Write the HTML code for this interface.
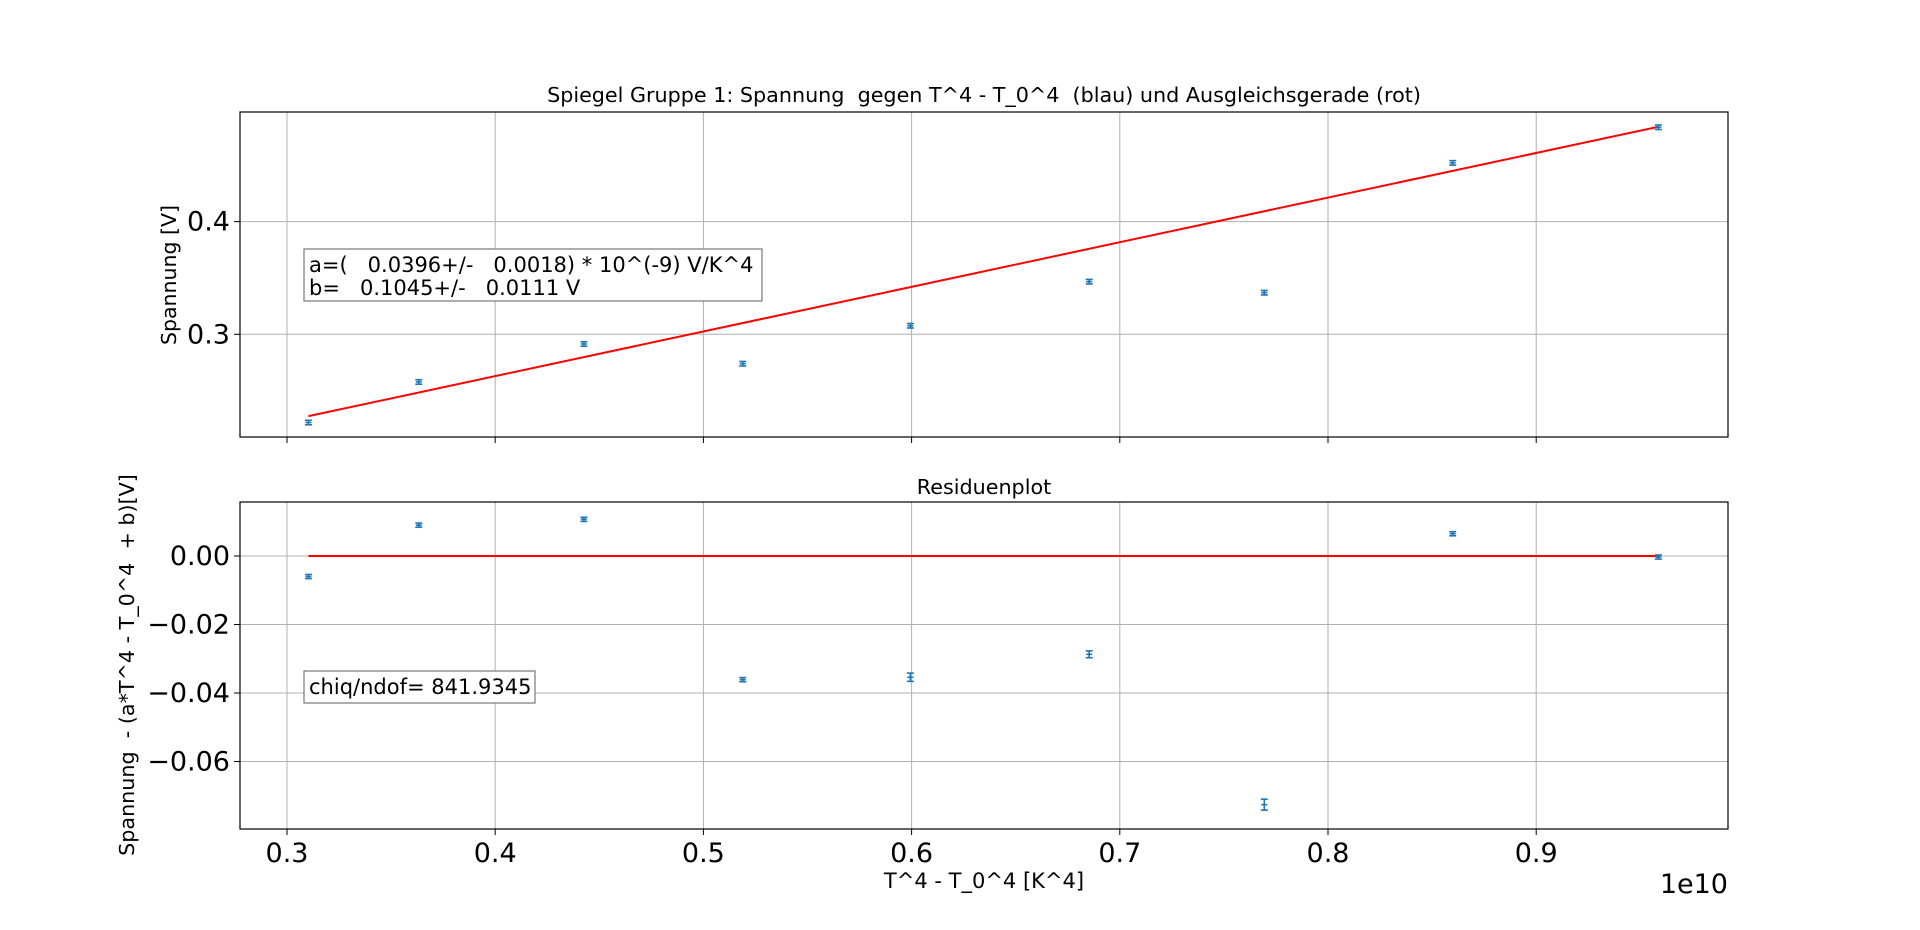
<!DOCTYPE html>
<html><head><meta charset="utf-8"><style>
html,body{margin:0;padding:0;background:#fff;}
svg{display:block;font-family:"DejaVu Sans","Liberation Sans",sans-serif;}
</style></head><body>
<svg id="chart" width="1920" height="930" viewBox="0 0 1920 930" xmlns="http://www.w3.org/2000/svg">
<rect width="1920" height="930" fill="#fff"/>
<g id="topPanel"></g>
<g id="botPanel"></g>
<text x="984" y="102" font-size="20.7" text-anchor="middle" xml:space="preserve">Spiegel Gruppe 1: Spannung  gegen T^4 - T_0^4  (blau) und Ausgleichsgerade (rot)</text>
<text x="984" y="494" font-size="20.7" text-anchor="middle">Residuenplot</text>
<text transform="translate(176,275) rotate(-90)" font-size="20.5" text-anchor="middle">Spannung [V]</text>
<text transform="translate(134,665) rotate(-90)" font-size="20.7" text-anchor="middle" xml:space="preserve">Spannung  - (a*T^4 - T_0^4  + b)[V]</text>
<text x="984" y="888" font-size="21" text-anchor="middle">T^4 - T_0^4 [K^4]</text>
<text x="1728" y="893" font-size="27" text-anchor="end">1e10</text>
<g id="fitbox">
<rect x="304" y="249" width="458" height="52" fill="#fff" stroke="#777" stroke-width="1.2"/>
<text x="309" y="272" font-size="21" xml:space="preserve">a=(   0.0396+/-   0.0018) * 10^(-9) V/K^4</text>
<text x="309" y="295" font-size="21" xml:space="preserve">b=   0.1045+/-   0.0111 V</text>
</g>
<g id="chibox">
<rect x="304" y="671" width="231" height="32" fill="#fff" stroke="#777" stroke-width="1.2"/>
<text x="309" y="694" font-size="21">chiq/ndof= 841.9345</text>
</g>
</svg>
<script>
const xVals=[0.3103,0.3633,0.4426,0.5189,0.5994,0.6853,0.7694,0.8599,0.9587];
const yVals=[0.2217,0.2577,0.2914,0.2739,0.3076,0.3467,0.3369,0.4521,0.4837];
const yErr=[0.002,0.002,0.002,0.002,0.002,0.002,0.002,0.002,0.002];
const resVals=[-0.0060,0.0090,0.0107,-0.0361,-0.0354,-0.0287,-0.0726,0.0065,-0.0003];
const resErr=[0.0006,0.0006,0.0006,0.0006,0.0012,0.0010,0.0016,0.0006,0.0006];
const slope=0.396, intercept=0.1045;
const xTicks=[0.3,0.4,0.5,0.6,0.7,0.8,0.9];
const xTickLabels=["0.3","0.4","0.5","0.6","0.7","0.8","0.9"];
const yTicksTop=[0.3,0.4];
const yTickLabelsTop=["0.3","0.4"];
const yTicksBot=[0.00,-0.02,-0.04,-0.06];
const yTickLabelsBot=["0.00","\u22120.02","\u22120.04","\u22120.06"];

const NS="http://www.w3.org/2000/svg";
const L=240,R=1728;
const xS=v=>287+(v-0.3)*2082;
const yTopS=v=>221.6-(v-0.4)*1127;
const yBotS=v=>556-v*3425;
function el(p,t,a){const e=document.createElementNS(NS,t);for(const k in a)e.setAttribute(k,a[k]);p.appendChild(e);return e;}

function panel(g,T,B,yS,yT,yL,withXLabels){
  xTicks.forEach((t,i)=>{
    const x=xS(t);
    const gl=el(g,'line',{x1:x,x2:x,y1:T,y2:B,stroke:'#b0b0b0','stroke-width':1});
    
    
    el(g,'line',{x1:x,x2:x,y1:B,y2:B+6,stroke:'#000','stroke-width':1});
    if(withXLabels){
      const tx=el(g,'text',{x:x,y:B+33,'font-size':27,'text-anchor':'middle'});
      tx.textContent=xTickLabels[i];
      
      
    }
  });
  yT.forEach((t,i)=>{
    const y=yS(t);
    const gl=el(g,'line',{x1:L,x2:R,y1:y,y2:y,stroke:'#b0b0b0','stroke-width':1});
    
    
    el(g,'line',{x1:L-6,x2:L,y1:y,y2:y,stroke:'#000','stroke-width':1});
    const tx=el(g,'text',{x:L-10,y:y+9,'font-size':27,'text-anchor':'end'});
    tx.textContent=yL[i];
    
    
  });
}
function points(g,ys,errs,yS){
  xVals.forEach((xv,i)=>{
    const x=xS(xv),y=yS(ys[i]),y1=yS(ys[i]+errs[i]),y2=yS(ys[i]-errs[i]);
    const p=el(g,'g',{stroke:'#1f77b4','stroke-width':1.6});
    
    
    el(p,'line',{x1:x,x2:x,y1:y1,y2:y2});
    el(p,'line',{x1:x-3.5,x2:x+3.5,y1:y1,y2:y1});
    el(p,'line',{x1:x-3.5,x2:x+3.5,y1:y2,y2:y2});
    el(p,'line',{x1:x-3,x2:x+3,y1:y,y2:y});
  });
}
const gTop=document.getElementById('topPanel'),gBot=document.getElementById('botPanel');
panel(gTop,112,437,yTopS,yTicksTop,yTickLabelsTop,false);
panel(gBot,502,829,yBotS,yTicksBot,yTickLabelsBot,true);
const x0=xVals[0],x1=xVals[xVals.length-1];
const fl=el(gTop,'line',{x1:xS(x0),x2:xS(x1),y1:yTopS(slope*x0+intercept),y2:yTopS(slope*x1+intercept),stroke:'#ff0000','stroke-width':2});


const zl=el(gBot,'line',{x1:xS(x0),x2:xS(x1),y1:yBotS(0),y2:yBotS(0),stroke:'#ff0000','stroke-width':2});


points(gTop,yVals,yErr,yTopS);
points(gBot,resVals,resErr,yBotS);
const f1=el(gTop,'rect',{x:L,y:112,width:R-L,height:325,fill:'none',stroke:'#000','stroke-width':1.2});


const f2=el(gBot,'rect',{x:L,y:502,width:R-L,height:327,fill:'none',stroke:'#000','stroke-width':1.2});


const svgEl=document.getElementById('chart');
svgEl.appendChild(document.getElementById('fitbox'));
svgEl.appendChild(document.getElementById('chibox'));
</script>
</body></html>
